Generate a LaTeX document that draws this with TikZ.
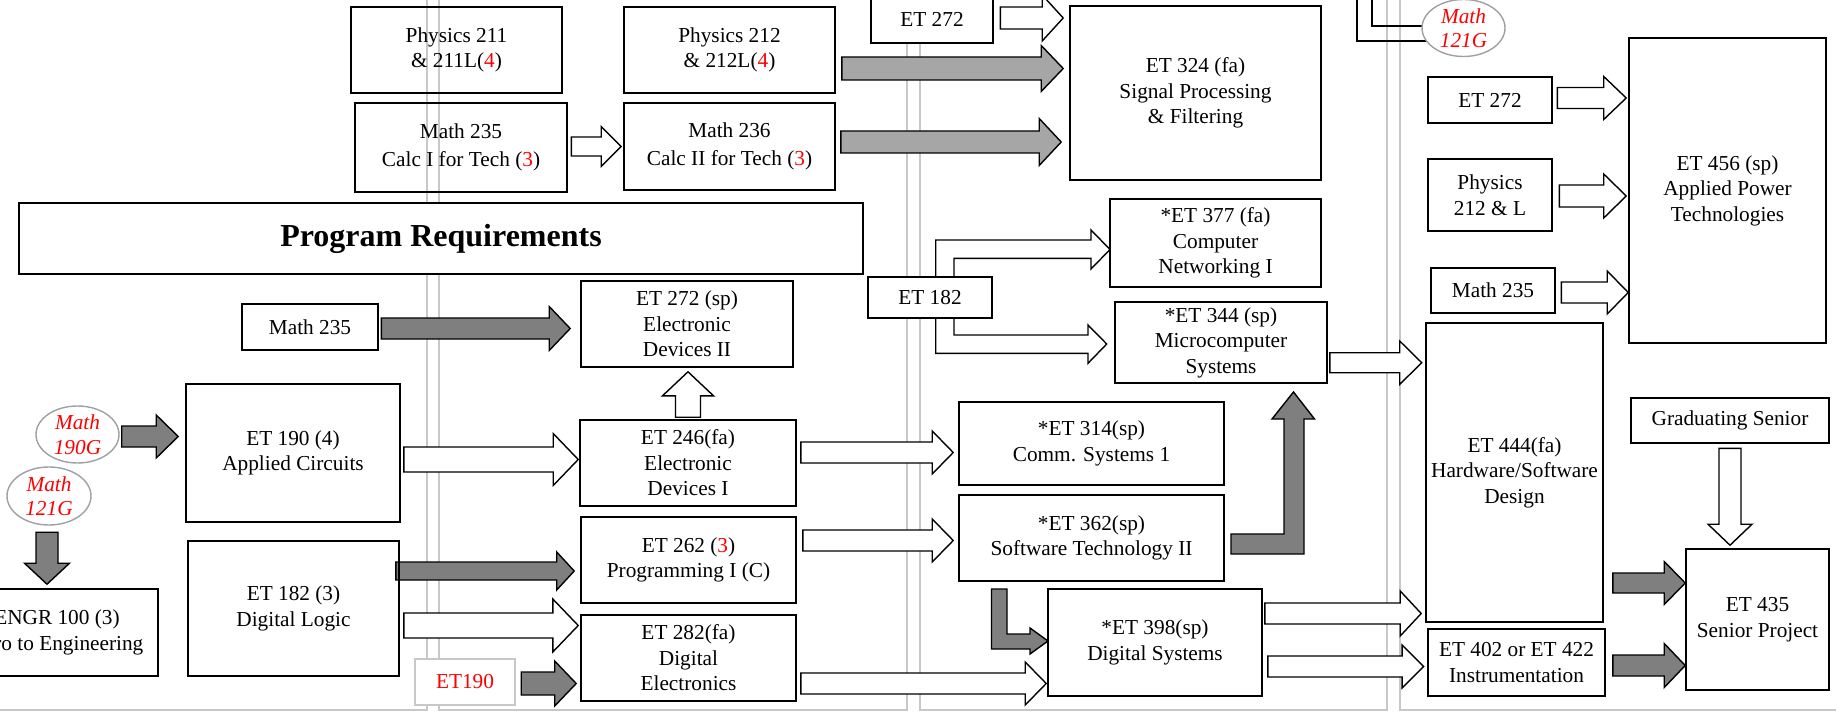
\documentclass[tikz,border=0pt]{standalone}
\usepackage{fontspec}
\setmainfont{Liberation Serif}
\usetikzlibrary{calc,shapes.geometric}
\definecolor{lgray}{HTML}{A6A6A6}
\definecolor{dgray}{HTML}{7F7F7F}
\definecolor{panelc}{HTML}{C8C8C8}
\definecolor{ellgray}{HTML}{A0A0A0}
\newcommand\rd[1]{\textcolor{red}{#1}}
\pgfdeclarelayer{panels}
\pgfdeclarelayer{arrows}
\pgfsetlayers{panels,arrows,main}
\tikzset{
 box/.style={draw=black, line width=1.6pt, rectangle, align=center, inner sep=0pt, font=\fontsize{21.3}{25.5}\selectfont},
 thickbox/.style={box, line width=2.8pt},
 opaque/.style={fill=white},
 ellshape/.style={ellipse, draw=ellgray, line width=1.4pt, fill=white, inner sep=0pt},
 elltext/.style={align=center, inner sep=0pt, text=red, font=\fontsize{21.3}{24.5}\selectfont\itshape},
 warrow/.style={draw=black, line width=1.4pt, fill=white, line join=miter},
 larrow/.style={draw=black, line width=1.4pt, fill=lgray, line join=miter},
 darrow/.style={draw=black, line width=1.4pt, fill=dgray, line join=miter},
 panelline/.style={draw=panelc, line width=2pt},
}
% box: [style]{name}{x1}{y1}{x2}{y2}{text}
\newcommand\bx[7][]{\node[box,#1,minimum width={#5-#3},minimum height={#6-#4}] (#2) at ({(#3+#5)/2},{(#4+#6)/2}) {#7};}
% horizontal block arrow: style, start anchor, start offset, tip anchor, tip offset, y, shaft half, head half, head length
\newcommand\harr[9]{\draw[#1] let \p1=($(#2)+(#3,0)$), \p2=($(#4 |- 0,#6)+(#5,0)$) in
 (\x1,{\y2+#7pt}) -- ({\x2-#9pt},{\y2+#7pt}) -- ({\x2-#9pt},{\y2+#8pt}) -- (\x2,\y2) -- ({\x2-#9pt},{\y2-#8pt}) -- ({\x2-#9pt},{\y2-#7pt}) -- (\x1,{\y2-#7pt}) -- cycle;}
\begin{document}
\begin{tikzpicture}[x=1pt,y=-1pt]
\useasboundingbox (0,0) rectangle (1836,714);
\clip (0,0) rectangle (1836,714);
% ---------- nodes ----------
\bx{phys211}{351}{7}{562}{93}{Physics 211\\\& 211L(\rd{4})}
\bx{math235a}{355}{103}{567}{192}{Math 235\\[3pt]Calc I for Tech (\rd{3})}
\bx{phys212}{624}{7}{835}{93}{Physics 212\\\& 212L(\rd{4})}
\bx{math236}{624}{103}{835}{190}{Math 236\\[2pt]Calc II for Tech (\rd{3})}
\bx[thickbox,opaque]{et272a}{871}{-4}{993}{43}{ET 272}
\bx{et324}{1070}{6}{1321}{180}{ET 324 (fa)\\Signal Processing\\\& Filtering}
\bx[thickbox]{et272b}{1428}{77}{1552}{123}{ET 272}
\bx[thickbox]{phys212L}{1428}{159}{1552}{231}{Physics\\212 \& L}
\bx[thickbox]{math235c}{1431}{268}{1555}{313}{Math 235}
\bx{et456}{1629}{38}{1826}{343}{ET 456 (sp)\\Applied Power\\Technologies}
\bx[opaque,font=\fontsize{32}{38}\selectfont\bfseries]{progreq}{19}{203}{863}{274}{\raisebox{-3pt}{Program Requirements}}
\bx[thickbox]{math235b}{242}{304}{378}{350}{Math 235}
\bx{et272sp}{581}{281}{793}{367}{ET 272 (sp)\\Electronic\\Devices II}
\bx[thickbox,opaque]{et182m}{868}{277}{992}{318}{ET 182}
\bx{et377}{1110}{199}{1321}{287}{*ET 377 (fa)\\Computer\\Networking I}
\bx{et344}{1115}{302}{1327}{383}{*ET 344 (sp)\\Microcomputer\\Systems}
\bx{et190}{186}{384}{400}{522}{ET 190 (4)\\Applied Circuits}
\bx{et246}{580}{420}{796}{506}{ET 246(fa)\\Electronic\\Devices I}
\bx{et314}{959}{402}{1224}{485}{*ET 314(sp)\\Comm. Systems 1}
\bx{et362}{959}{495}{1224}{581}{*ET 362(sp)\\Software Technology II}
\bx{et444}{1426}{323}{1603}{622}{ET 444(fa)\\Hardware/Software\\Design}
\bx[thickbox]{grad}{1631}{398}{1829}{443}{Graduating Senior}
\bx{engr}{-44}{589}{158}{676}{ENGR 100 (3)\\Intro to Engineering}
\bx{et182}{188}{541}{399}{676}{ET 182 (3)\\Digital Logic}
\bx{et262}{581}{517}{796}{603}{ET 262 (\rd{3})\\Programming I (C)}
\bx{et282}{581}{615}{796}{701}{ET 282(fa)\\Digital\\Electronics}
\bx[opaque,draw=panelc,line width=2.5pt,text=red]{et190r}{415}{659}{515}{705}{ET190}
\bx{et398}{1048}{589}{1262}{696}{*ET 398(sp)\\Digital Systems}
\bx{et402}{1428}{629}{1605}{696}{ET 402 or ET 422\\Instrumentation}
\bx{et435}{1686}{549}{1829}{690}{ET 435\\Senior Project}
% ellipses
\node[ellshape,minimum width=83,minimum height=57] (math190) at (77.5,434.5) {};
\node[elltext] (math190t) at (math190) {Math\\190G};
\node[ellshape,minimum width=84,minimum height=58] (math121l) at (49,496) {};
\node[elltext] (math121lt) at (math121l) {Math\\121G};
\node[ellshape,minimum width=83,minimum height=57] (math121t) at (1463.5,28) {};
\node[elltext] (math121tt) at (math121t) {Math\\121G};
% ---------- panels ----------
\begin{pgfonlayer}{panels}
\clip (0,0) rectangle (1836,714);
\draw[panelline] (-10,-10) rectangle (427,710);
\draw[panelline] (439,-10) rectangle (907,710);
\draw[panelline] (920,-10) rectangle (1387,710);
\draw[panelline] (1400,-10) rectangle (1850,710);
\end{pgfonlayer}
% ---------- arrows ----------
\begin{pgfonlayer}{arrows}
\clip (0,0) rectangle (1836,714);
\harr{warrow}{math235a.east}{3.6}{math236.west}{-2}{146.5}{9.5}{20}{20}
\harr{larrow}{phys212.east}{6}{et324.west}{-6}{68.5}{11.5}{23}{22}
\harr{larrow}{math236.east}{5}{et324.west}{-8}{142}{11}{23.5}{22}
\harr{warrow}{et272a.east}{6}{et324.west}{-6}{18}{11}{23}{21}
\harr{warrow}{et272b.east}{4}{et456.west}{-2}{98}{10.5}{21.5}{22.5}
\harr{warrow}{phys212L.east}{6}{et456.west}{-2}{196}{11}{22}{22.5}
\harr{warrow}{math235c.east}{5}{et456.west}{0}{292.5}{10.5}{21.5}{21}
\harr{warrow}{et344.east}{2}{et444.west}{-3.5}{362.7}{10}{21.7}{22}
\harr{warrow}{et190.east}{3}{et246.west}{-1}{459.5}{12.5}{26}{25}
\harr{warrow}{et182.east}{4}{et282.west}{-2}{625.5}{12.5}{26.5}{25.4}
\harr{warrow}{et246.east}{4}{et314.west}{-5}{452.5}{10.5}{21.5}{21}
\harr{warrow}{et262.east}{6}{et362.west}{-5}{540.5}{10.5}{21.5}{21}
\harr{warrow}{et282.east}{4}{et398.west}{-1}{683.5}{10.5}{21.5}{21}
\harr{warrow}{et398.east}{2}{et444.west}{-4}{613.5}{10.5}{22.5}{21}
\harr{warrow}{et398.east}{5}{et402.west}{-3.5}{666.5}{10.5}{21.5}{21.6}
\harr{darrow}{math235b.east}{2}{et272sp.west}{-10}{328.5}{10.5}{22}{21}
\harr{darrow}{math190.east}{2}{et190.west}{-7}{436.5}{10.5}{21.5}{22}
\harr{darrow}{et182.east}{-4}{et262.west}{-6}{571}{9}{19}{17.5}
\harr{darrow}{et190r.east}{5}{et282.west}{-4}{683.5}{11.5}{22.5}{21.5}
\harr{darrow}{et444.east}{9}{et435.west}{0}{583}{10}{21.5}{21}
\harr{darrow}{et402.east}{7}{et435.west}{0}{665.5}{10.5}{22}{21}
% vertical arrows
\draw[warrow] let \p1=(et246.north), \p2=(et272sp.south) in
 ({\x1-12.5pt},{\y1+2pt}) -- ({\x1-12.5pt},{\y2-28pt}) -- ({\x1-25.5pt},{\y2-28pt}) -- (\x1,{\y2-4pt}) -- ({\x1+25.5pt},{\y2-28pt}) -- ({\x1+12.5pt},{\y2-28pt}) -- ({\x1+12.5pt},{\y1+2pt}) -- cycle;
\draw[warrow] let \p1=(grad.south), \p2=(et435.north) in
 ({\x1-11pt},{\y1-4pt}) -- ({\x1-11pt},{\y2+24pt}) -- ({\x1-22pt},{\y2+24pt}) -- (\x1,{\y2+3pt}) -- ({\x1+22pt},{\y2+24pt}) -- ({\x1+11pt},{\y2+24pt}) -- ({\x1+11pt},{\y1-4pt}) -- cycle;
\draw[darrow] let \p1=(math121l.south), \p2=(engr.north) in
 ({\x1-13pt},{\y1-6.5pt}) -- ({\x1-13pt},{\y2+25pt}) -- ({\x1-24.5pt},{\y2+25pt}) -- ({\x1-2pt},{\y2+4pt}) -- ({\x1+20.5pt},{\y2+25pt}) -- ({\x1+9pt},{\y2+25pt}) -- ({\x1+9pt},{\y1-6.5pt}) -- cycle;
% bent arrows
\draw[warrow] (935.7,279) -- (935.7,240) -- (1091,240) -- (1091,230) -- (1110,249.5) -- (1091,269) -- (1091,258.3) -- (954,258.3) -- (954,279) -- cycle;
\draw[warrow] (954,316) -- (954,335) -- (1088,335) -- (1088,325) -- (1106.7,344) -- (1088,363.3) -- (1088,353.3) -- (935.7,353.3) -- (935.7,316) -- cycle;
\draw[darrow] (991.5,589) -- (1007,589) -- (1007,634) -- (1030,634) -- (1030,628) -- (1048,641) -- (1030,654) -- (1030,649) -- (991.5,649) -- cycle;
\draw[darrow] (1231,534) -- (1284,534) -- (1284,419) -- (1272,419) -- (1293.5,392) -- (1314.5,419) -- (1304,419) -- (1304,554) -- (1231,554) -- cycle;
% tail of arrow leaving Math 121G upward
\draw[line width=1.4pt] (1357,-5) -- (1357,41) -- (1430,41);
\draw[line width=1.4pt] (1372,-5) -- (1372,26) -- (1430,26);
\end{pgfonlayer}
\end{tikzpicture}
\end{document}
